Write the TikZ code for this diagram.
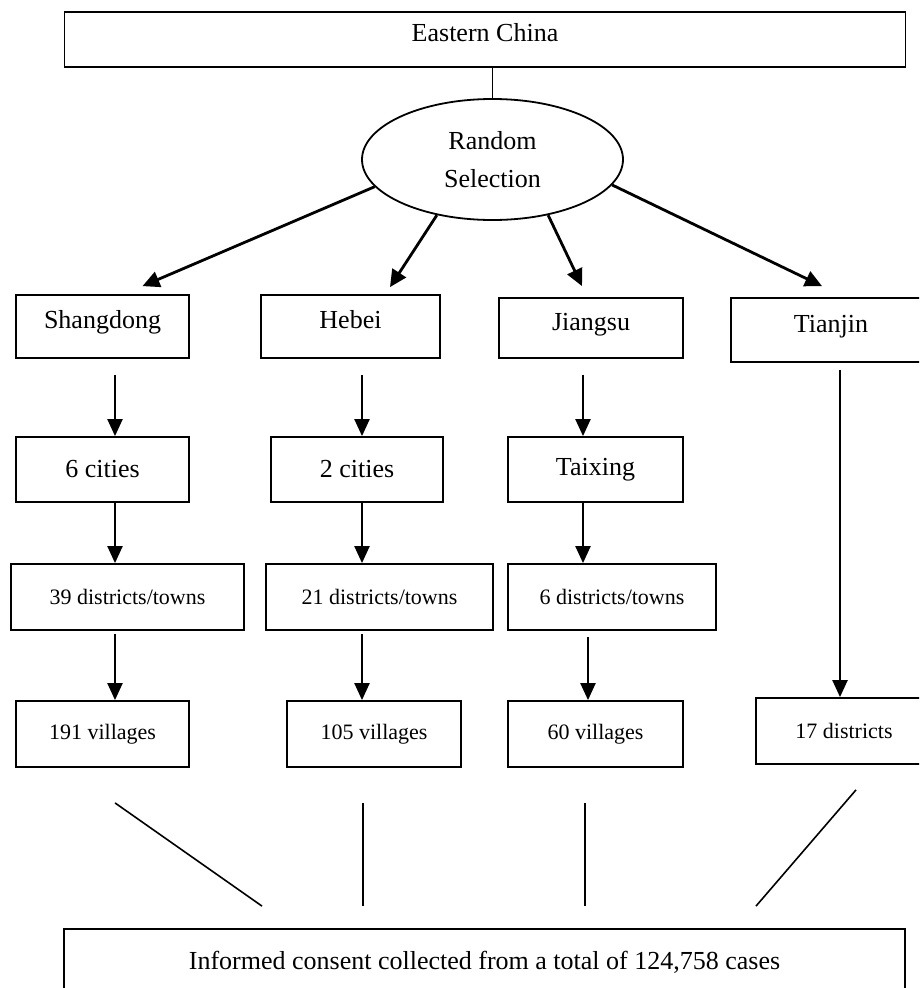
\documentclass[tikz,border=0pt]{standalone}
\usepackage{fontspec}
\setmainfont{Liberation Serif}
\usetikzlibrary{shapes, arrows.meta, positioning, calc}

\begin{document}
\begin{tikzpicture}[x=1pt, y=-1pt,
  box/.style={draw, line width=1.8pt, inner sep=0pt, minimum width=#1, font=\fontsize{26}{31}\selectfont},
  sbox/.style={box=#1, minimum height=66pt, font=\fontsize{22}{26}\selectfont},
  hi/.style={text height=18pt, text depth=14pt},
  arr/.style={line width=2.2pt, -{Triangle[length=17pt, width=15pt]}},
  bigarr/.style={line width=2.8pt, -{Triangle[length=17pt, width=16pt]}},
  link/.style={line width=1.6pt}
]
  \useasboundingbox (0,0) rectangle (919,988);
  \clip (0,0) rectangle (919,988);

  \node[box=841pt, hi, minimum height=55pt] (east) at (485,39.5) {Eastern China};
  \node[draw, ellipse, line width=1.8pt, inner sep=0pt, minimum width=261pt, minimum height=121pt,
        align=center, font=\fontsize{26}{31}\selectfont] (rand) at (492.5,159.5) {Random\\[7pt]Selection};

  \node[box=173pt, hi, minimum height=63pt] (shd) at (102.5,326.5) {Shangdong};
  \node[box=179pt, hi, minimum height=63pt] (heb) at (350.5,326.5) {Hebei};
  \node[box=184pt, hi, minimum height=60pt] (jsu) at (591,328) {Jiangsu};
  \node[box=200pt, hi, minimum height=64pt] (tjn) at (831,330) {Tianjin};

  \node[box=173pt, minimum height=65pt] (shdc) at (102.5,469.5) {6 cities};
  \node[box=172pt, minimum height=65pt] (hebc) at (357,469.5) {2 cities};
  \node[box=175pt, minimum height=65pt] (jsuc) at (595.5,469.5) {Taixing};

  \node[sbox=233pt] (shdd) at (127.5,597) {39 districts/towns};
  \node[sbox=227pt] (hebd) at (379.5,597) {21 districts/towns};
  \node[sbox=208pt] (jsud) at (612,597) {6 districts/towns};

  \node[sbox=173pt] (shdv) at (102.5,734) {191 villages};
  \node[sbox=174pt] (hebv) at (374,734) {105 villages};
  \node[sbox=175pt] (jsuv) at (595.5,734) {60 villages};
  \node[sbox=176pt] (tjnd) at (844,731) {17 districts};

  \node[box=841pt, minimum height=66pt] (total) at (484.5,962) {Informed consent collected from a total of 124,758 cases};

  \draw[link] (rand.north |- east.south) -- (rand.north);

  \draw[bigarr] (rand.193) -- ([xshift=40pt,yshift=8pt]shd.north);
  \draw[bigarr] (rand.225) -- ([xshift=39.5pt,yshift=7pt]heb.north);
  \draw[bigarr] (rand.315) -- ([xshift=-9pt,yshift=11pt]jsu.north);
  \draw[bigarr] (rand.348) -- ([xshift=-9pt,yshift=11pt]tjn.north);

  \draw[arr] ([xshift=12.5pt,yshift=-16pt]shd.south) -- ([xshift=12.5pt]shdc.north);
  \draw[arr] ([xshift=12.5pt]shdc.south) -- ([xshift=-12.5pt]shdd.north);
  \draw[arr] ([xshift=-12.5pt,yshift=-3pt]shdd.south) -- ([xshift=12.5pt]shdv.north);

  \draw[arr] ([xshift=11.5pt,yshift=-16pt]heb.south) -- ([xshift=5pt]hebc.north);
  \draw[arr] ([xshift=5pt]hebc.south) -- ([xshift=-17.5pt]hebd.north);
  \draw[arr] ([xshift=-17.5pt,yshift=-3pt]hebd.south) -- ([xshift=-12pt]hebv.north);

  \draw[arr] ([xshift=-8pt,yshift=-16pt]jsu.south) -- ([xshift=-12.5pt]jsuc.north);
  \draw[arr] ([xshift=-12.5pt]jsuc.south) -- ([xshift=-29pt]jsud.north);
  \draw[arr] ([xshift=-24pt,yshift=-6pt]jsud.south) -- ([xshift=-7.5pt]jsuv.north);

  \draw[arr] ([xshift=9pt,yshift=-7pt]tjn.south) -- ([xshift=-4pt]tjnd.north);

  \draw[link] ([xshift=12.5pt,yshift=-35pt]shdv.south) -- ([xshift=-222.5pt,yshift=22pt]total.north);
  \draw[link] ([xshift=-11pt,yshift=-35pt]hebv.south) -- ([xshift=-121.5pt,yshift=22pt]total.north);
  \draw[link] ([xshift=-10.5pt,yshift=-35pt]jsuv.south) -- ([xshift=100.5pt,yshift=22pt]total.north);
  \draw[link] ([xshift=12pt,yshift=-25pt]tjnd.south) -- ([xshift=271.5pt,yshift=22pt]total.north);
\end{tikzpicture}
\end{document}
